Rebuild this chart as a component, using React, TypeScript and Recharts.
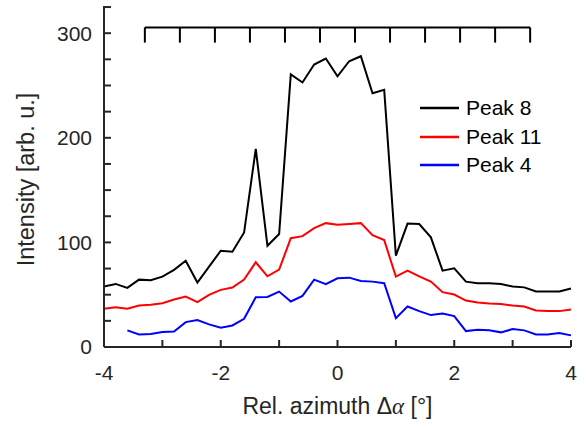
import { LineChart, Line, XAxis, YAxis, ReferenceLine, Legend, Label } from "recharts";

const FONT = "'Liberation Sans', Arial, Helvetica, sans-serif";
const AXIS_COLOR = "#262626";

// relative azimuth in degrees, 0.2 step
const azimuth = [
  -4, -3.8, -3.6, -3.4, -3.2, -3, -2.8, -2.6, -2.4, -2.2, -2, -1.8, -1.6, -1.4,
  -1.2, -1, -0.8, -0.6, -0.4, -0.2, 0, 0.2, 0.4, 0.6, 0.8, 1, 1.2, 1.4, 1.6,
  1.8, 2, 2.2, 2.4, 2.6, 2.8, 3, 3.2, 3.4, 3.6, 3.8, 4,
];

const peak8 = [
  57.8, 60.3, 56.5, 64.4, 63.8, 67.3, 73.7, 82.5, 61.6, 76.8, 92, 91, 109.5,
  189.5, 96.8, 108, 260.6, 252.9, 270, 275.8, 258.7, 273.2, 278, 242.6, 245.8,
  87.3, 118, 117.5, 104.8, 73, 75.2, 62.5, 61, 61, 60.3, 57.8, 57, 53, 53, 53,
  56,
];

const peak11 = [
  36.5, 38, 36.5, 39.7, 40.3, 41.9, 45.4, 48.3, 42.9, 49.8, 54.6, 56.8, 64.4,
  81, 67.6, 74, 104, 106, 113.6, 118.4, 116.8, 117.5, 118.4, 107, 102.2, 67.3,
  73, 67.6, 62.5, 52.4, 50.2, 44.4, 42.5, 41.6, 41, 39.7, 38.7, 34.9, 34.3,
  34.3, 35.9,
];

// no data for the first two angles
const peak4 = [
  null, null, 15.9, 12, 12.4, 14.3, 14.9, 23.8, 25.7, 21.6, 18.4, 20.6, 27,
  47.6, 47.9, 53, 43.5, 48.9, 64.4, 60, 65.7, 66.3, 63.2, 62.5, 61, 27.6, 38.7,
  34.3, 30.5, 32, 29.5, 15.2, 16.5, 15.9, 14, 17.1, 15.9, 12, 12, 13.3, 11.1,
];

const seriesNames = ["Peak 8", "Peak 11", "Peak 4"];

const xTicks = [-4, -3, -2, -1, 0, 1, 2, 3, 4];
const yTicks = [0, 25, 50, 75, 100, 125, 150, 175, 200, 225, 250, 275, 300, 325];

// comb marker along the top
const bracketLevel = 305.5;
const bracketTickEnd = 291;
const bracketTicks = [-3.3, -2.7, -2.1, -1.5, -0.9, -0.3, 0.3, 0.9, 1.5, 2.1, 2.7, 3.3];

const data = azimuth.map((x, i) => ({
  x,
  peak8: peak8[i],
  peak11: peak11[i],
  peak4: peak4[i],
}));

const XLabel = ({ viewBox }: any) => (
  <text
    x={viewBox.x + viewBox.width / 2}
    y={viewBox.y + 67}
    textAnchor="middle"
    fontFamily={FONT}
    fontSize={23}
    fill={AXIS_COLOR}
  >
    Rel. azimuth Δ
    <tspan fontStyle="italic" fontFamily="'Liberation Serif', serif">
      α
    </tspan>{" "}
    [°]
  </text>
);

const YLabel = ({ viewBox }: any) => {
  const cx = 34;
  const cy = viewBox.y + viewBox.height / 2 + 3;
  return (
    <text
      x={cx}
      y={cy}
      transform={`rotate(-90, ${cx}, ${cy})`}
      textAnchor="middle"
      fontFamily={FONT}
      fontSize={23.5}
      fill={AXIS_COLOR}
    >
      Intensity [arb. u.]
    </text>
  );
};

const renderLegend = (props: any) => {
  const items = [...(props.payload || [])].sort(
    (a: any, b: any) => seriesNames.indexOf(a.value) - seriesNames.indexOf(b.value)
  );
  return (
    <div style={{ fontFamily: FONT, fontSize: 21, color: "#000" }}>
      {items.map((entry: any) => (
        <div
          key={entry.value}
          style={{ display: "flex", alignItems: "center", height: 28.5 }}
        >
          <svg width={39} height={4}>
            <line x1={0} y1={2} x2={39} y2={2} stroke={entry.color} strokeWidth={2.5} />
          </svg>
          <span style={{ marginLeft: 7, lineHeight: "28.5px" }}>{entry.value}</span>
        </div>
      ))}
    </div>
  );
};

export default function App() {
  const axisLine = { stroke: AXIS_COLOR, strokeWidth: 2 };
  return (
    <div style={{ position: "absolute", left: 0, top: 0, background: "#fff" }}>
      <LineChart
        width={586}
        height={428}
        data={data}
        margin={{ top: 6, right: 15, left: 0, bottom: 0 }}
      >
        <XAxis
          dataKey="x"
          type="number"
          domain={[-4, 4]}
          ticks={xTicks}
          interval={0}
          tickFormatter={(v: number) => (v % 2 === 0 ? String(v) : "")}
          height={81}
          tickSize={-7}
          tickMargin={25}
          axisLine={axisLine}
          tickLine={axisLine}
          tick={{ fill: AXIS_COLOR, fontSize: 21, fontFamily: FONT }}
        >
          <Label content={XLabel} />
        </XAxis>
        <XAxis
          xAxisId="top"
          orientation="top"
          dataKey="x"
          type="number"
          domain={[-4, 4]}
          ticks={xTicks}
          interval={0}
          height={0}
          tickSize={-7}
          tick={false}
          axisLine={axisLine}
          tickLine={axisLine}
        />
        <YAxis
          type="number"
          domain={[0, 326]}
          ticks={yTicks}
          interval={0}
          tickFormatter={(v: number) => (v % 100 === 0 ? String(v) : "")}
          width={104}
          tickSize={-7}
          tickMargin={19}
          axisLine={axisLine}
          tickLine={axisLine}
          tick={{ fill: AXIS_COLOR, fontSize: 21, fontFamily: FONT }}
        >
          <Label content={YLabel} />
        </YAxis>
        <YAxis
          yAxisId="right"
          orientation="right"
          type="number"
          domain={[0, 326]}
          ticks={yTicks}
          interval={0}
          width={0}
          tickSize={-7}
          tick={false}
          axisLine={axisLine}
          tickLine={axisLine}
        />

        <ReferenceLine
          segment={[
            { x: bracketTicks[0], y: bracketLevel },
            { x: bracketTicks[bracketTicks.length - 1], y: bracketLevel },
          ]}
          stroke="#000"
          strokeWidth={2}
        />
        {bracketTicks.map((t) => (
          <ReferenceLine
            key={t}
            segment={[
              { x: t, y: bracketLevel },
              { x: t, y: bracketTickEnd },
            ]}
            stroke="#000"
            strokeWidth={2}
          />
        ))}

        <Line
          name="Peak 8"
          dataKey="peak8"
          stroke="#000000"
          strokeWidth={2}
          dot={false}
          type="linear"
          isAnimationActive={false}
        />
        <Line
          name="Peak 11"
          dataKey="peak11"
          stroke="#ff0000"
          strokeWidth={2}
          dot={false}
          type="linear"
          isAnimationActive={false}
        />
        <Line
          name="Peak 4"
          dataKey="peak4"
          stroke="#0000ff"
          strokeWidth={2}
          dot={false}
          type="linear"
          isAnimationActive={false}
        />

        <Legend
          layout="vertical"
          align="center"
          verticalAlign="middle"
          content={renderLegend}
          wrapperStyle={{ left: 420, top: 94, width: "auto" }}
        />
      </LineChart>
    </div>
  );
}
